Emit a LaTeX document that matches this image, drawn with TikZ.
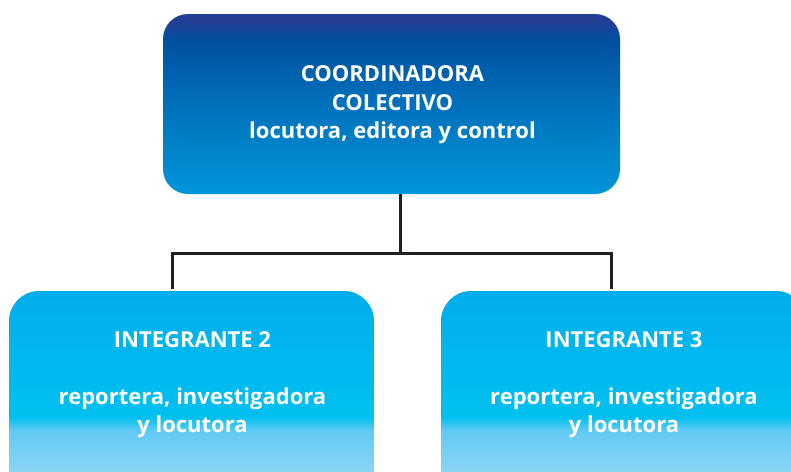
\documentclass[tikz,border=0pt]{standalone}
\usepackage{fontspec}
\setmainfont{Open Sans}
\definecolor{tA}{HTML}{243E94}
\definecolor{tB}{HTML}{0050A0}
\definecolor{tC}{HTML}{0070BC}
\definecolor{tD}{HTML}{0096D8}
\definecolor{bA}{HTML}{00ADEC}
\definecolor{bB}{HTML}{00C0F0}
\definecolor{bC}{HTML}{62CAF3}
\definecolor{bD}{HTML}{8AD4F5}
\definecolor{bE}{HTML}{A0DDF7}
\definecolor{lineC}{HTML}{231F20}
\pgfdeclareverticalshading{topshade}{100bp}{color(0bp)=(tD); color(25bp)=(tD); color(50bp)=(tC); color(67.8bp)=(tB); color(73bp)=(tA); color(75bp)=(tA); color(100bp)=(tA)}
\pgfdeclareverticalshading{botshade}{100bp}{color(0bp)=(bE); color(25bp)=(bE); color(35.7bp)=(bD); color(44.5bp)=(bC); color(47.5bp)=(bB); color(75bp)=(bA); color(100bp)=(bA)}
\tikzset{
  topbox/.style={shading=topshade, rounded corners=25pt, minimum width=457pt, minimum height=180pt, inner sep=0pt, draw=none},
  botbox/.style={shading=botshade, rounded corners=30pt, minimum width=365pt, minimum height=229pt, inner sep=0pt, draw=none},
  lbl/.style={text=white, font=\bfseries\fontsize{22}{28.5}\selectfont, align=center, inner sep=0pt},
  conn/.style={draw=lineC, line width=3pt}
}
\begin{document}
\begin{tikzpicture}[x=1pt,y=-1pt]
\useasboundingbox (0,0) rectangle (791,471);
\begin{scope}
\clip (0,0) rectangle (791,471);
\node[topbox] (top) at (391.5,104) {};
\node[botbox] (left) at (191.5,405.5) {};
\node[botbox] (right) at (623.5,405.5) {};
\end{scope}
\node[lbl] (toptxt) at (392.5,105) {COORDINADORA\\COLECTIVO\\locutora, editora y control};
\node[lbl] (lefttxt) at (192.5,385) {INTEGRANTE 2\\[28pt]reportera, investigadora\\y locutora};
\node[lbl] (righttxt) at (624,385) {INTEGRANTE 3\\[28pt]reportera, investigadora\\y locutora};
\coordinate (j) at (400,253);
\coordinate (jl) at (172,253);
\coordinate (jr) at (611,253);
\draw[conn] (top.south -| j) -- (j);
\draw[conn] ([yshift=2pt]jl |- left.north) -- (jl) -- (jr) -- ([yshift=2pt]jr |- right.north);
\end{tikzpicture}
\end{document}
